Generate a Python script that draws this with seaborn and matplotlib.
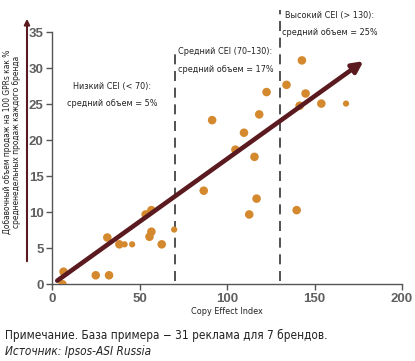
import matplotlib
matplotlib.use('Agg')
import matplotlib.pyplot as plt
import pandas as pd
import seaborn as sns

# Copy Effect Index vs additional sales volume (one point per ad)
cei = [6, 6.6, 25, 32.6, 31.6, 38.5, 41.5, 45.8, 53.5, 56.8, 56.8, 55.7, 62.7, 69.8,
       86.7, 91.5, 104.8, 109.7, 115.7, 112.7, 116.9, 118.4, 122.6, 134, 139.8,
       141.5, 142.8, 144.9, 153.9, 168]
volume = [0.0, 1.75, 1.25, 1.25, 6.5, 5.55, 5.55, 5.55, 9.7, 10.3, 7.3, 6.6, 5.55, 7.6,
          13.0, 22.8, 18.7, 21.05, 17.7, 9.7, 11.9, 23.6, 26.7, 27.7, 10.3,
          24.8, 31.1, 26.5, 25.1, 25.1]
marker_kind = ['n', 'n', 'n', 'n', 'n', 'n', 's', 's', 'n', 'n', 'n', 'n', 'n', 's',
               'n', 'n', 'n', 'n', 'n', 'n', 'n', 'n', 'n', 'n', 'n',
               'n', 'n', 'n', 'n', 's']

trend_start = (3, 0.5)
trend_end = (178, 31)
thresholds = [70, 130]
threshold_tops = [32.8, 38.1]

segment_titles = ['Низкий CEI (< 70):', 'Средний CEI (70–130):', 'Высокий CEI (> 130):']
segment_values = ['средний объем = 5%', 'средний объем = 17%', 'средний объем = 25%']
segment_x = [34.5, 99.2, 158.6]
segment_y = [27.5, 32.3, 37.4]

x_ticks = [0, 50, 100, 150, 200]
y_ticks = [0, 5, 10, 15, 20, 25, 30, 35]

df = pd.DataFrame({'cei': cei, 'volume': volume, 'kind': marker_kind})

sns.set_style('ticks')
plt.rcParams['font.family'] = ['DejaVu Sans']
plt.rcParams['font.stretch'] = 'condensed'

MAROON = '#5B1A1F'
ORANGE = '#D4892F'
TXT = dict(family='DejaVu Sans', stretch='condensed', color='#222222')

fig = plt.figure(figsize=(4.15, 3.61), dpi=100)
ax = fig.add_axes([0.1253, 0.2125, 0.8434, 0.698])

sns.scatterplot(data=df, x='cei', y='volume', size='kind', sizes={'n': 38, 's': 20},
                color=ORANGE, edgecolor='none', legend=False, ax=ax, zorder=3)

# threshold lines
for xv, top in zip(thresholds, threshold_tops):
    ax.plot([xv, xv], [0.5, top], color='#333333', lw=1.2, dashes=(6, 4), clip_on=False, zorder=2)

# trend arrow
ax.annotate('', xy=trend_end, xytext=trend_start,
            arrowprops=dict(arrowstyle='-|>', color=MAROON, lw=3.3, mutation_scale=16,
                            shrinkA=0, shrinkB=0), zorder=4, annotation_clip=False)

for t, v, xv, yv in zip(segment_titles, segment_values, segment_x, segment_y):
    ax.text(xv, yv, t, ha='center', va='center', fontsize=6.5, **TXT)
    ax.text(xv, yv - 2.4, v, ha='center', va='center', fontsize=6.5, **TXT)

ax.set_xlim(0, 200)
ax.set_ylim(0, 35)
ax.set_xticks(x_ticks)
ax.set_yticks(y_ticks)
ax.set_xlabel('')
ax.set_ylabel('')
for lab in ax.get_xticklabels() + ax.get_yticklabels():
    lab.set_fontfamily(['Liberation Sans', 'DejaVu Sans'])
    lab.set_fontstretch('normal')
    lab.set_fontweight('bold')
    lab.set_fontsize(9.5)
    lab.set_color('#5f5f5f')
ax.tick_params(axis='both', length=4, width=1, color='#555555', pad=2)
sns.despine(ax=ax)
for side in ['left', 'bottom']:
    ax.spines[side].set_color('#555555')
    ax.spines[side].set_linewidth(1)

# axis titles
fig.text(227 / 415, 1 - 312 / 361, 'Copy Effect Index', ha='center', va='center',
         fontsize=6.5, **TXT)
fig.text(12 / 415, 1 - 142 / 361,
         'Добавочный объем продаж на 100 GPRs как %\nсредненедельных продаж каждого бренда',
         ha='center', va='center', rotation=90, fontsize=6, linespacing=1.05, **TXT)

# decorative arrow along y label
fig.patches.append(matplotlib.patches.FancyArrowPatch(
    (27 / 415, 1 - 264 / 361), (27 / 415, 1 - 16 / 361), transform=fig.transFigure,
    arrowstyle='-|>', mutation_scale=8, color=MAROON, lw=1.5))

# footer
fig.text(5 / 415, 1 - 335 / 361, 'Примечание. База примера − 31 реклама для 7 брендов.',
         ha='left', va='center', fontsize=8.5, **TXT)
fig.text(5 / 415, 1 - 352 / 361, 'Источник: Ipsos-ASI Russia',
         ha='left', va='center', fontsize=8.5, style='italic', **TXT)

fig.savefig('out.png', dpi=100)
